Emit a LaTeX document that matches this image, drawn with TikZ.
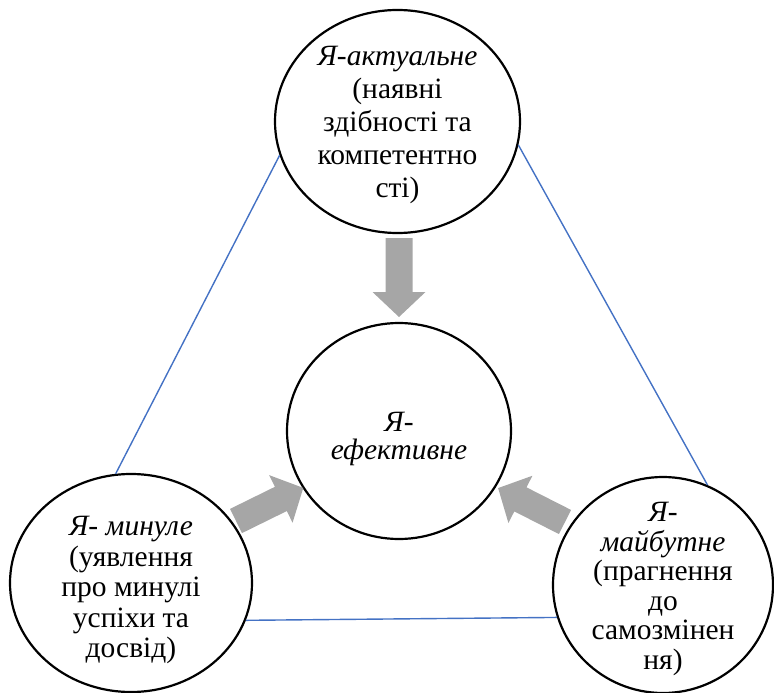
\documentclass[tikz,border=0pt]{standalone}
\usepackage{fontspec}
\setmainfont{Liberation Serif}
\usetikzlibrary{shapes.geometric}
\definecolor{linkblue}{HTML}{4472C4}
\definecolor{arrowgray}{HTML}{A6A6A6}
\tikzset{
  selfell/.style={ellipse, draw=black, line width=2.2pt, inner sep=0pt},
  selftext/.style={align=center, inner sep=0pt},
  link/.style={draw=linkblue, line width=1.4pt},
}
\newcommand\blockarr[3]{% position, angle, length
  \fill[arrowgray, shift={(#1)}, rotate=#2]
    (0,-13.5) -- (#3-25,-13.5) -- (#3-25,-26.5) -- (#3,0) -- (#3-25,26.5) -- (#3-25,13.5) -- (0,13.5) -- cycle;}
\begin{document}
\begin{tikzpicture}[x=1pt,y=-1pt]
\useasboundingbox (0,0) rectangle (774,693);
% circles
\node[selfell, minimum width=245pt, minimum height=223pt] (act) at (397.5,121.5) {};
\node[selfell, minimum width=224pt, minimum height=216pt] (eff) at (399,431) {};
\node[selfell, minimum width=242pt, minimum height=218pt] (past) at (131,583) {};
\node[selfell, minimum width=220pt, minimum height=216pt] (fut) at (663,585) {};
% texts
\node[selftext, font=\fontsize{29.5}{33}\selectfont] (acttext) at (397.5,125) {\textit{Я-актуальне}\\(наявні\\здібності та\\компетентно\\сті)};
\node[selftext, font=\fontsize{29.5}{28.5}\selectfont] (efftext) at (399,439) {\textit{Я-}\\\textit{ефективне}};
\node[selftext, font=\fontsize{29.5}{30.5}\selectfont] (pasttext) at (131,590) {\textit{Я- минуле}\\(уявлення\\про минулі\\успіхи та\\досвід)};
\node[selftext, font=\fontsize{29.5}{29.6}\selectfont] (futtext) at (663,589) {\textit{Я-}\\\textit{майбутне}\\(прагнення\\до\\самозмінен\\ня)};
% blue links
\draw[link] (act.196) -- (past.98);
\draw[link] (act.349) -- (fut.66);
\draw[link] (past.342) -- (fut.197);
% block arrows
\coordinate (a1) at (399,238);
\coordinate (a2) at (236,521);
\coordinate (a3) at (565,522);
\blockarr{a1}{-90}{79}
\blockarr{a2}{26.2}{75}
\blockarr{a3}{153.1}{75}
\end{tikzpicture}
\end{document}
